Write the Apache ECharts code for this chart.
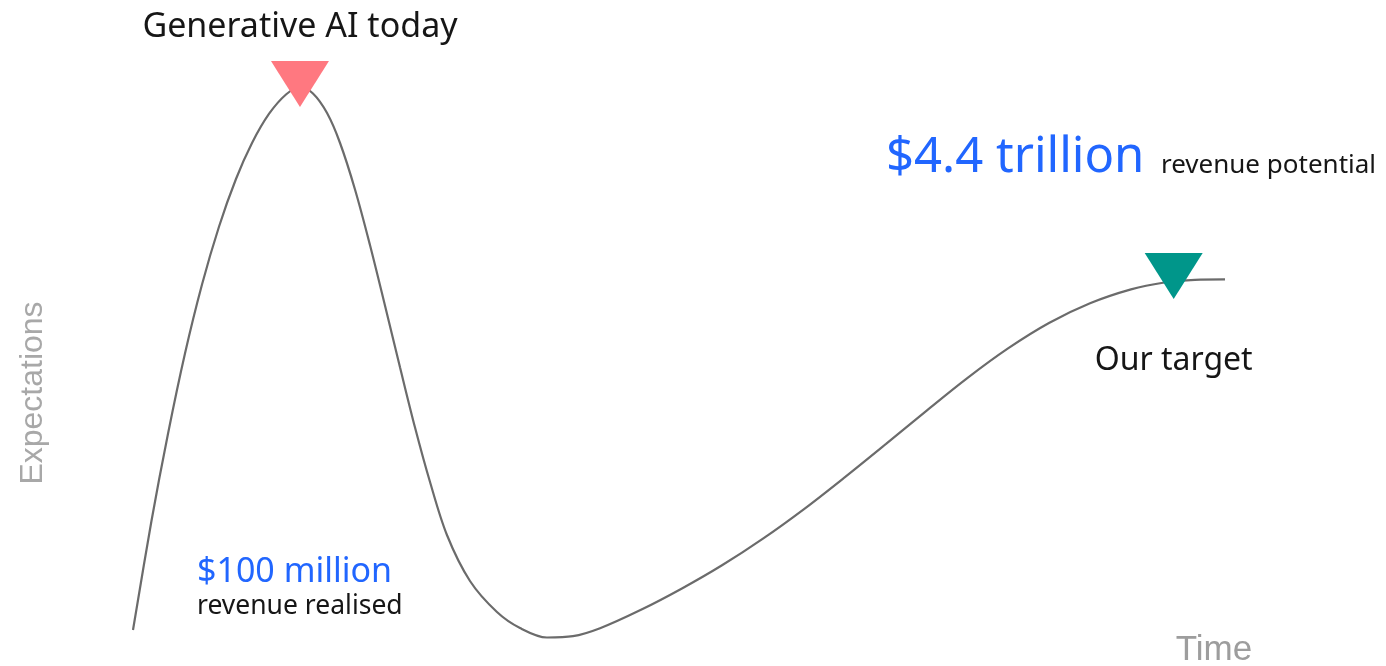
<!DOCTYPE html>
<html>
<head>
<meta charset="utf-8">
<script src="https://cdn.jsdelivr.net/npm/echarts@6/dist/echarts.min.js"></script>
<style>html,body{margin:0;padding:0;background:#fff;}#c{width:1386px;height:666px;}</style>
</head>
<body>
<div id="c"></div>
<script>
// Hype-cycle curve: time (0-100) vs expectations (0-100)
const timeValues = [0, 1.69, 3.21, 4.76, 6.32, 7.88, 9.43, 10.90, 12.45, 14.01, 15.29,
  16.48, 17.77, 18.96, 20.33, 21.70, 23.08, 24.45, 25.82, 27.20, 28.75, 30.86, 33.33, 35.44, 37.91, 40.29, 42.77,
  46.52, 50.27, 53.94, 57.69, 61.45, 65.20, 68.96, 72.71, 76.37, 80.13, 83.88, 87.64, 91.39, 94.32, 97.25, 100];
const expectationValues = [1.79, 21.25, 36.88, 51.16, 63.48, 73.84, 82.32, 88.75, 93.93, 97.41, 98.75,
  97.59, 94.09, 88.75, 80.45, 70.54, 59.69, 48.71, 37.99, 28.21, 18.75, 10.54, 5.00, 2.14, 0.45, 0.68, 2.10,
  5.39, 9.20, 13.34, 18.10, 23.38, 29.09, 35.02, 41.02, 46.73, 52.07, 56.61, 60.13, 62.61, 63.80, 64.32, 64.38];
const todayPoint = [15.29, 98.75];
const targetPoint = [95.3, 64.1];
const todayLabel = 'Generative AI today';
const targetLabel = 'Our target';
const xAxisName = 'Time';
const yAxisName = 'Expectations';

const curve = timeValues.map((t, i) => [t, expectationValues[i]]);
const FONT = '"Noto Sans", "Open Sans", sans-serif';

const chart = echarts.init(document.getElementById('c'));
chart.setOption({
  animation: false,
  grid: { left: 133, right: 161, top: 80, bottom: 26 },
  xAxis: { type: 'value', min: 0, max: 100, show: false },
  yAxis: { type: 'value', min: 0, max: 100, show: false },
  graphic: [
    { type: 'text', x: 33, y: 393, rotation: Math.PI / 2,
      style: { text: yAxisName, fill: '#a8a8a8', font: '32px "Liberation Sans", Arial, sans-serif', textAlign: 'center', textVerticalAlign: 'middle' } },
    { type: 'text', x: 1214, y: 650,
      style: { text: xAxisName, fill: '#9d9d9d', font: '35px "Liberation Sans", Arial, sans-serif', textAlign: 'center', textVerticalAlign: 'middle' } },
    { type: 'text', x: 886, y: 158,
      style: { text: '$4.4 trillion', fill: '#2166ff', font: '49px ' + FONT, textVerticalAlign: 'middle' } },
    { type: 'text', x: 1161, y: 166,
      style: { text: 'revenue potential', fill: '#161616', font: '26px ' + FONT, textVerticalAlign: 'middle' } },
    { type: 'text', x: 197, y: 572,
      style: { text: '$100 million', fill: '#2166ff', font: '34px ' + FONT, textVerticalAlign: 'middle' } },
    { type: 'text', x: 197, y: 606,
      style: { text: 'revenue realised', fill: '#161616', font: '26.5px ' + FONT, textVerticalAlign: 'middle' } }
  ],
  series: [
    {
      type: 'line', data: curve, smooth: 0.33, symbol: 'none',
      lineStyle: { color: '#6b6b6b', width: 2.2 }, z: 2
    },
    {
      type: 'scatter', data: [todayPoint], symbol: 'triangle', symbolRotate: 180,
      symbolSize: [58, 46], symbolOffset: [0, -3],
      itemStyle: { color: '#ff7880', opacity: 1 }, z: 3,
      label: { show: true, position: 'top', distance: 17, formatter: todayLabel,
        color: '#161616', fontSize: 34, fontFamily: FONT }
    },
    {
      type: 'scatter', data: [targetPoint], symbol: 'triangle', symbolRotate: 180,
      symbolSize: [58, 46], symbolOffset: [0, -5],
      itemStyle: { color: '#00968a', opacity: 1 }, z: 3,
      label: { show: true, position: 'bottom', distance: 46, formatter: targetLabel,
        color: '#161616', fontSize: 32, fontFamily: FONT }
    }
  ]
});
</script>
</body>
</html>
